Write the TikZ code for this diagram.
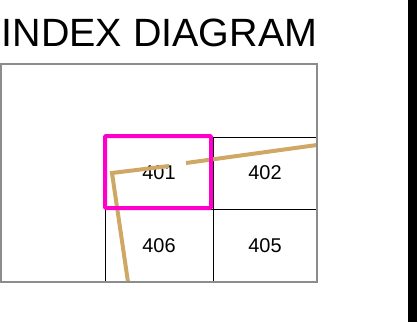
\documentclass[tikz,border=0pt]{standalone}
\usepackage{fontspec}
\setmainfont{Liberation Sans}
\usepackage{tikz}
\usetikzlibrary{positioning,calc}

\definecolor{framegray}{RGB}{140,140,140}
\definecolor{hilite}{RGB}{255,0,204}
\definecolor{roadtan}{RGB}{207,168,102}

\begin{document}
\begin{tikzpicture}[x=1bp,y=-1bp,
  cellbox/.style={draw=black,line width=0.8bp,inner sep=0pt},
  cellnum/.style={font=\fontsize{20}{20}\selectfont},
  road/.style={roadtan,line width=4bp}]
\useasboundingbox (0,0) rectangle (418,323);
\node[anchor=base west,inner sep=0pt,font=\fontsize{39.6}{39.6}\selectfont] (title) at (1.5,46) {INDEX DIAGRAM};
% grid cells
\draw[cellbox] (105,137) rectangle (213,209);
\draw[cellbox] (213,137) rectangle (317,209);
\draw[cellbox] (105,209) rectangle (213,282);
\draw[cellbox] (213,209) rectangle (317,282);
\node[cellnum] (c401) at (159,173) {401};
\node[cellnum] (c402) at (265,173) {402};
\node[cellnum] (c406) at (159,246) {406};
\node[cellnum] (c405) at (265,246) {405};
% road
\draw[road] (128,282) -- (112,173) -- (169,166);
\draw[road] (186,163) -- (317,145);
% frame
\draw[framegray,line width=2bp] (1,64) rectangle (317,282);
% highlight
\draw[hilite,line width=4bp,rounded corners=1bp] (105,136) rectangle (211,208);
% side bar
\fill[black] (408,0) rectangle (417,322);
\end{tikzpicture}
\end{document}
